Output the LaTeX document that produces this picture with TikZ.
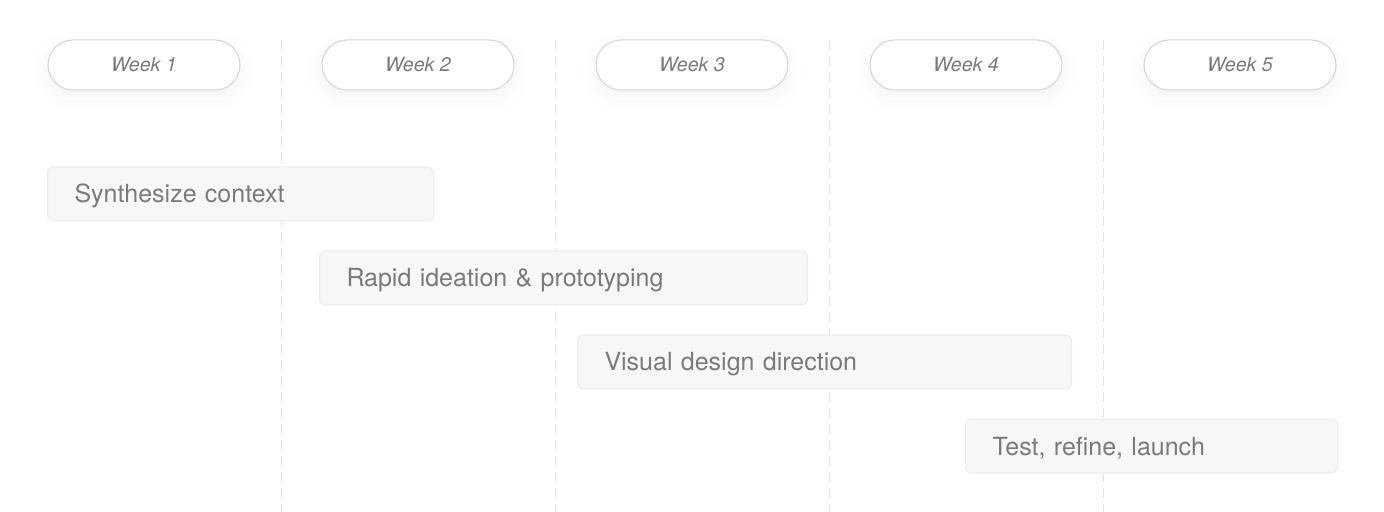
\documentclass[tikz,border=0pt]{standalone}
\usepackage{fontspec}
\setmainfont{TeX Gyre Heros}
\usetikzlibrary{shadows.blur}
\definecolor{txtgray}{HTML}{7A7A7A}
\definecolor{pillline}{HTML}{D4D4D4}
\definecolor{gridline}{HTML}{E2E2E2}
\definecolor{barfill}{HTML}{F7F7F7}
\definecolor{barline}{HTML}{EBEBEB}
\begin{document}
\begin{tikzpicture}[x=0.5pt,y=-0.5pt,
  week/.style={draw=pillline,line width=0.5pt,fill=white,rounded corners=12.5pt,
    minimum width=96pt,minimum height=25pt,inner sep=0pt,text=txtgray,
    font=\fontsize{9.8}{11}\selectfont\itshape,
    blur shadow={shadow xshift=0pt,shadow yshift=-3pt,shadow blur radius=8pt,shadow opacity=5}},
  task/.style={draw=barline,line width=0.5pt,fill=barfill,rounded corners=3pt,
    minimum height=27pt,inner xsep=13.5pt,inner ysep=0pt,anchor=west,align=left,
    text height=9pt,text depth=0pt,
    text=txtgray,font=\fontsize{12.5}{15}\selectfont}]
\useasboundingbox (0,0) rectangle (1384,512);
% grid lines between the weeks
\foreach \gx in {281,555,829,1103}
  \draw [gridline,line width=0.5pt,dash pattern=on 5pt off 3pt] (\gx,40) -- (\gx,512);
% week headers
\node [week] (w1) at (144,65) {Week 1};
\node [week] (w2) at (418,65) {Week 2};
\node [week] (w3) at (692,65) {Week 3};
\node [week] (w4) at (966,65) {Week 4};
\node [week] (w5) at (1240,65) {Week 5};
% task bars
\node [task,text width=166pt] (synth) at (47,194) {Synthesize context};
\node [task,text width=217pt] (ideate) at (319,278) {Rapid ideation \& prototyping};
\node [task,text width=220pt] (visual) at (577,362) {Visual design direction};
\node [task,text width=159pt] (launch) at (965,446) {Test, refine, launch};
\end{tikzpicture}
\end{document}
